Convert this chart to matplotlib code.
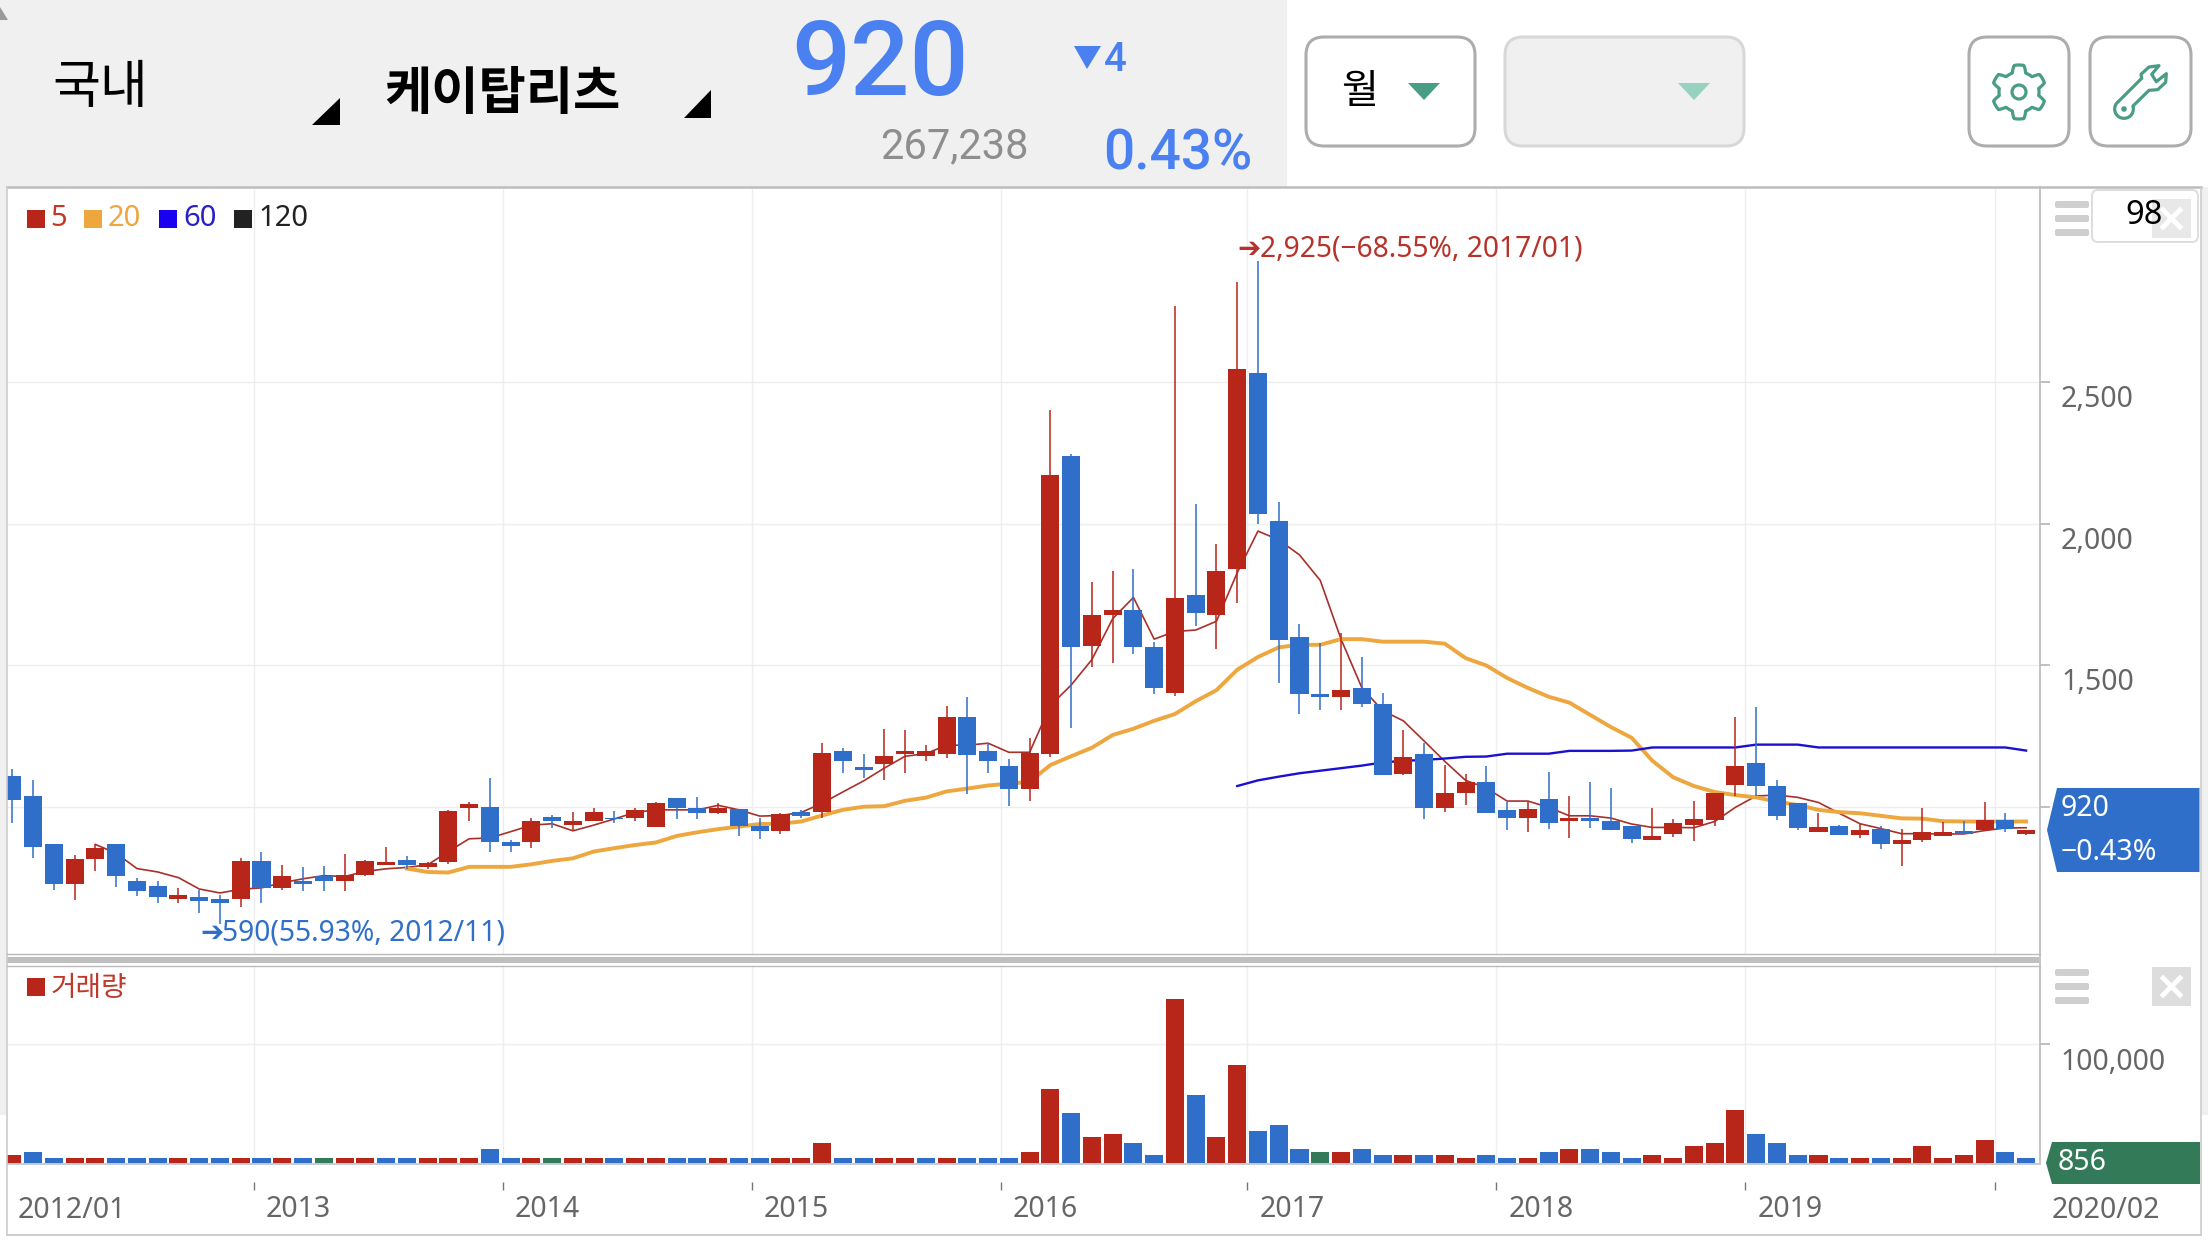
# 케이탑리츠 monthly chart

import numpy as np
import matplotlib
matplotlib.use('Agg')
import matplotlib.pyplot as plt
from matplotlib.patches import FancyBboxPatch, Polygon, Rectangle, Circle
from matplotlib.transforms import ScaledTranslation

plt.rcParams['font.family'] = ['Noto Sans', 'DejaVu Sans']
KR = ['Noto Sans CJK KR', 'DejaVu Sans']
RB = ['Roboto', 'DejaVu Sans']

# DATA (monthly, 2012/01 .. 2020/02)

opens = [1111, 1041, 869, 730, 818, 869, 741, 723, 678, 682,
         678, 678, 811, 716, 741, 756, 741, 763, 797, 815,
         790, 806, 998, 1002, 876, 878, 966, 939, 953, 964,
         964, 932, 1034, 998, 980, 995, 935, 917, 984, 982,
         1199, 1142, 1153, 1189, 1180, 1189, 1318, 1199, 1146, 1065,
         1189, 2238, 1570, 1677, 1695, 1566, 1404, 1749, 1677, 1841,
         2531, 2010, 1600, 1401, 1390, 1420, 1365, 1119, 1189, 998,
         1052, 1088, 991, 964, 1029, 950, 963, 950, 935, 884,
         905, 939, 956, 1078, 1156, 1074, 1015, 912, 935, 904,
         925, 869, 883, 900, 918, 921, 956, 907]
closes = [1027, 860, 730, 818, 858, 757, 705, 682, 689, 668,
          664, 811, 716, 756, 730, 741, 763, 811, 808, 797,
          804, 987, 1013, 878, 863, 950, 950, 953, 984, 957,
          991, 1016, 998, 980, 998, 935, 917, 977, 969, 1192,
          1165, 1133, 1181, 1199, 1199, 1318, 1185, 1164, 1065, 1192,
          2172, 1566, 1677, 1695, 1566, 1420, 1739, 1685, 1834, 2545,
          2033, 1589, 1401, 1390, 1413, 1365, 1115, 1178, 998, 1052,
          1088, 981, 964, 994, 943, 963, 950, 919, 888, 900,
          944, 960, 1050, 1147, 1075, 970, 926, 932, 904, 921,
          869, 883, 914, 914, 907, 956, 922, 920]
highs = [1135, 1097, 869, 833, 871, 869, 752, 739, 716, 709,
         689, 820, 844, 797, 790, 792, 836, 815, 860, 829,
         808, 991, 1018, 1104, 883, 964, 973, 982, 998, 987,
         998, 1018, 1034, 1038, 1014, 995, 964, 980, 991, 1228,
         1210, 1189, 1277, 1273, 1221, 1358, 1390, 1228, 1171, 1244,
         2400, 2245, 1794, 1834, 1841, 1584, 2766, 2069, 1929, 2851,
         2925, 2076, 1647, 1580, 1615, 1530, 1404, 1273, 1225, 1149,
         1116, 1147, 1020, 1020, 1125, 1039, 1088, 1067, 935, 998,
         958, 1022, 1050, 1320, 1355, 1098, 1015, 981, 939, 942,
         933, 925, 998, 947, 950, 1019, 980, 921]
lows = [946, 820, 709, 673, 774, 720, 686, 662, 662, 626,
        590, 650, 662, 709, 705, 705, 705, 756, 797, 784,
        784, 799, 953, 842, 842, 856, 928, 919, 951, 946,
        953, 932, 960, 960, 978, 899, 889, 907, 964, 964,
        1120, 1104, 1095, 1120, 1162, 1174, 1047, 1120, 1005, 1022,
        1178, 1280, 1494, 1509, 1541, 1399, 1392, 1638, 1559, 1721,
        1999, 1438, 1329, 1343, 1343, 1352, 1115, 1115, 960, 984,
        1008, 979, 919, 912, 925, 891, 928, 919, 874, 884,
        895, 881, 933, 1040, 1040, 954, 919, 912, 902, 891,
        853, 794, 877, 900, 907, 918, 913, 904]

# moving averages, first value belongs to month index 4 / 19 / 59
ma5 = [869, 838, 784, 772, 752, 712, 698, 711, 716, 734,
       748, 759, 756, 774, 783, 788, 797, 844, 889, 892,
       914, 937, 942, 917, 937, 959, 982, 991, 991, 991,
       1007, 991, 969, 971, 982, 1014, 1054, 1093, 1138, 1180,
       1189, 1219, 1219, 1226, 1194, 1194, 1359, 1431, 1521, 1665,
       1740, 1593, 1620, 1625, 1656, 1827, 1974, 1943, 1890, 1800,
       1593, 1422, 1341, 1305, 1234, 1162, 1095, 1068, 1022, 1022,
       1000, 970, 970, 962, 941, 929, 929, 928, 950, 1000,
       1040, 1043, 1035, 1017, 979, 942, 925, 907, 907, 906,
       906, 918, 927, 928]
ma20 = [784, 772, 770, 790, 790, 790, 799, 811, 820, 844,
        856, 867, 876, 899, 912, 923, 932, 941, 942, 950,
        971, 991, 1002, 1004, 1023, 1034, 1056, 1066, 1077, 1083,
        1090, 1149, 1180, 1210, 1255, 1277, 1305, 1329, 1374, 1413,
        1485, 1530, 1564, 1573, 1573, 1593, 1593, 1584, 1584, 1584,
        1577, 1526, 1500, 1456, 1421, 1390, 1369, 1326, 1283, 1245,
        1164, 1106, 1075, 1054, 1043, 1035, 1020, 1008, 991, 983,
        979, 970, 961, 960, 951, 950, 950, 950, 950]
ma60 = [1075, 1095, 1108, 1120, 1129, 1138, 1147, 1158, 1164, 1167,
        1172, 1178, 1179, 1189, 1189, 1189, 1199, 1199, 1199, 1200,
        1211, 1211, 1211, 1211, 1211, 1221, 1221, 1221, 1211, 1211,
        1211, 1211, 1211, 1211, 1211, 1211, 1211, 1211, 1200]

volumes = [7500, 10000, 5000, 5000, 5000, 5000, 5000, 5000, 5000, 5000,
           5000, 5000, 5000, 5000, 5000, 5000, 5000, 5000, 5000, 5000,
           5000, 5000, 5000, 12500, 5000, 5000, 5000, 5000, 5000, 5000,
           5000, 5000, 5000, 5000, 5000, 5000, 5000, 5000, 5000, 17500,
           5000, 5000, 5000, 5000, 5000, 5000, 5000, 5000, 5000, 10000,
           62500, 42500, 22500, 25000, 17500, 7500, 137500, 57500, 22500, 82500,
           27500, 32500, 12500, 10000, 10000, 12500, 7500, 7500, 7500, 7500,
           5000, 7500, 5000, 5000, 10000, 12500, 12500, 10000, 5000, 7500,
           5000, 15000, 17500, 45000, 25000, 17500, 7500, 7500, 5000, 5000,
           5000, 5000, 15000, 5000, 7500, 20000, 10000, 5000]
vol_dirs = list('rbbrrbbbrb' 'brbrbgrrbb' 'rrrbbrgrrb' 'rrbbrbbrrr' 'bbrrbrbbbr'
                'rbrrbbrbrr' 'bbbgrbbrbr' 'rbbrbrbbbr' 'rrrrbbbrbr' 'brrrrrbb')

price_ticks = [1000, 1500, 2000, 2500]
price_labels = ['', '1,500', '2,000', '2,500']
year_idx = [12, 24, 36, 48, 60, 72, 84, 96]
year_shift = [0.38, 0.38, 0.38, 0.38, 0.52, 0.52, 0.52, 0.52]
year_labels = ['2013', '2014', '2015', '2016', '2017', '2018', '2019']

# COLORS

RED = '#b8261a'
BLUE = '#2f6fc9'
GREEN = '#337a58'
ORANGE = '#eea63e'
NAVY = '#1c10d0'
TEAL = '#4a9d85'
HEAD_BLUE = '#4a80f0'
GRID = '#eeeeee'
vol_colors = {'r': RED, 'b': BLUE, 'g': GREEN}

W, H = 2208, 1242
fig = plt.figure(figsize=(W / 100, H / 100), dpi=100, facecolor='white')


def px_axes(left, top, right, bottom, z):
    a = fig.add_axes([left / W, 1 - bottom / H, (right - left) / W, (bottom - top) / H], zorder=z)
    return a


# x axis: candle i sits at 261.5 + (i - 12) * 20.76 px
XL = (7 - 261.5) / 20.76 + 12
XR = (2039.5 - 261.5) / 20.76 + 12
x = np.arange(len(closes))
year_pos = [i - s for i, s in zip(year_idx, year_shift)]

# PRICE PANEL

ax = px_axes(7, 187, 2039.5, 955, 1)
ax.set_xlim(XL, XR)
ax.set_ylim(1000 + (807.3 - 955) / 0.2836, 1000 + (807.3 - 187) / 0.2836)
for s in ax.spines.values():
    s.set_visible(False)
ax.set_yticks(price_ticks)
ax.set_yticklabels(price_labels)
ax.yaxis.tick_right()
ax.tick_params(axis='y', length=7, width=1.2, color='#b5b5b5', pad=8.5, labelsize=20.5, labelcolor='#666666')
shift = ScaledTranslation(0, -3 / 100, fig.dpi_scale_trans)
for t in ax.get_yticklabels():
    t.set_verticalalignment('top')
    t.set_transform(t.get_transform() + shift)
ax.set_xticks(year_pos)
ax.tick_params(axis='x', length=0, labelbottom=False)
ax.grid(True, color=GRID, lw=1.0)
ax.set_axisbelow(True)

ax.plot(x[4:], ma5, color='#a8302a', lw=1.2, zorder=2)
ax.plot(x[19:], ma20, color=ORANGE, lw=2.8, zorder=2)
ax.plot(x[59:], ma60, color=NAVY, lw=1.7, zorder=2)

colors = [RED if c >= o else BLUE for o, c in zip(opens, closes)]
ax.vlines(x, lows, highs, colors=colors, lw=1.1, zorder=3)
ax.bar(x, np.abs(np.array(closes) - np.array(opens)), bottom=np.minimum(opens, closes),
       width=0.87, color=colors, linewidth=0, zorder=3)

# VOLUME PANEL

ax2 = px_axes(7, 966, 2039.5, 1164, 1)
ax2.set_xlim(XL, XR)
ax2.set_ylim(0, 198 / 119.7 * 100000)
for s in ax2.spines.values():
    s.set_visible(False)
ax2.bar(x, volumes, width=0.87, color=[vol_colors[d] for d in vol_dirs], linewidth=0, zorder=3)
ax2.set_yticks([100000])
ax2.set_yticklabels([''])
ax2.yaxis.tick_right()
ax2.tick_params(axis='y', length=7, width=1.2, color='#b5b5b5')
ax2.set_xticks(year_pos)
ax2.tick_params(axis='x', length=0, labelbottom=False)
ax2.grid(True, color=GRID, lw=1.0)
ax2.set_axisbelow(True)

# DATE STRIP

ax3 = px_axes(7, 1182, 2039.5, 1234, 1)
ax3.set_xlim(XL, XR)
ax3.set_ylim(1, 0)
ax3.axis('off')
ax3.vlines(year_pos, 0, 0.16, color='#777777', lw=1.0)
for p, lab in zip(year_pos, year_labels):
    ax3.text(p + 0.58, 0.53, lab, fontsize=20.5, color='#666666', ha='left', va='center')

# HEADER, BUTTONS, TAGS (pixel coordinates)

bg = px_axes(0, 0, W, H, 0)
bg.set_xlim(0, W)
bg.set_ylim(H, 0)
bg.axis('off')
bg.add_patch(Rectangle((0, 0), 1287, 187, color='#f0f0f0', lw=0))
bg.add_patch(Rectangle((0, 187), 7, 928, color='#f0f0f0', lw=0))
bg.add_patch(Rectangle((2201, 187), 7, 928, color='#f0f0f0', lw=0))

ui = px_axes(0, 0, W, H, 2)
ui.set_xlim(0, W)
ui.set_ylim(H, 0)
ui.axis('off')
ui.patch.set_alpha(0)

# frame lines
ui.plot([7, 2201], [187, 187], color='#bdbdbd', lw=1.8)
ui.plot([7, 7], [187, 1235], color='#cccccc', lw=1.2)
ui.plot([2039.5, 2039.5], [187, 1164], color='#bbbbbb', lw=1.2)
ui.plot([2200.5, 2200.5], [187, 1235], color='#cccccc', lw=1.2)
ui.plot([7, 2201], [1235, 1235], color='#cccccc', lw=1.4)
ui.plot([7, 2039.5], [954, 954], color='#bbbbbb', lw=1.0)
ui.add_patch(Rectangle((7, 957), 2032, 6, color='#bfbfbf', lw=0))
ui.plot([7, 2039.5], [966, 966], color='#bbbbbb', lw=1.0)
ui.plot([7, 2039.5], [1164, 1164], color='#c4ccd8', lw=1.4)

# header texts
ui.add_patch(Polygon([(0, 7), (8, 20), (0, 20)], color='#9a9a9a', lw=0))
ui.text(52, 88, '국내', fontsize=37.5, family=KR, color='black', va='center')
ui.text(384, 93, '케이탑리츠', fontsize=37, family=KR, fontweight='bold', color='black', va='center')
ui.add_patch(Polygon([(340, 98), (340, 125), (312, 125)], color='black', lw=0))
ui.add_patch(Polygon([(711, 90), (711, 118), (684, 118)], color='black', lw=0))
ui.text(880, 67, '920', fontsize=75, family=RB, fontweight='medium', color=HEAD_BLUE, ha='center', va='center')
ui.add_patch(Polygon([(1074, 46), (1101, 46), (1087, 69)], color=HEAD_BLUE, lw=0))
ui.text(1104, 60, '4', fontsize=29, family=RB, fontweight='medium', color=HEAD_BLUE, va='center')
ui.text(1028, 147, '267,238', fontsize=30, family=RB, color='#8e8e8e', ha='right', va='center')
ui.text(1252, 154, '0.43%', fontsize=39.5, family=RB, fontweight='medium', color=HEAD_BLUE, ha='right', va='center')


def button(left, right, face, edge):
    ui.add_patch(FancyBboxPatch((left + 16, 37 + 16), right - left - 32, 109 - 32,
                                boxstyle='round,pad=16,rounding_size=18',
                                fc=face, ec=edge, lw=2.2))


button(1306, 1475, 'white', '#adadad')
button(1505, 1744, '#f0f0f0', '#d8d8d8')
button(1969, 2069, 'white', '#adadad')
button(2090, 2191, 'white', '#adadad')
ui.text(1360, 91, '월', fontsize=29, family=KR, fontweight='medium', color='black', ha='center', va='center')
ui.add_patch(Polygon([(1408, 83), (1440, 83), (1424, 100)], color=TEAL, lw=0))
ui.add_patch(Polygon([(1678, 83), (1710, 83), (1694, 100)], color='#97d1bf', lw=0))

# gear icon, six teeth
ang = np.linspace(0, 2 * np.pi, 361)
rad = 23.5 + 3.5 * np.clip(2.2 * np.cos(6 * (ang + np.pi / 2)), -1, 1)
ui.add_patch(Polygon(np.c_[2019 + rad * np.cos(ang), 92 + rad * np.sin(ang)], closed=True,
                     fc='none', ec=TEAL, lw=2.3, joinstyle='round'))
ui.add_patch(Circle((2019, 92), 7, fc='none', ec=TEAL, lw=2.3))

# wrench icon, outline runs from the handle round the jaw and back round the ring
arc = np.deg2rad(np.linspace(-18, 234, 40))
head = np.array([(500, 100), (498, 88), (522, 66), (552, 62), (530, 88), (544, 110), (574, 86),
                 (572, 112), (548, 134), (522, 136), (474, 183)], dtype=float)
ring = np.c_[447 + 28 * np.cos(arc), 192 + 28 * np.sin(arc)]
outline = np.vstack([head, ring])
ui.add_patch(Polygon(np.c_[1975 + outline[:, 0] / 3, 45 + outline[:, 1] / 3], closed=True,
                     fc='white', ec=TEAL, lw=2.3, joinstyle='round'))
ui.add_patch(Circle((1975 + 447 / 3, 45 + 192 / 3), 2.8, color=TEAL, lw=0))

# legends
legend_items = [(27, 50, RED, '#c0392b', '5'), (84, 108, ORANGE, ORANGE, '20'),
                (159, 183, '#1a00f0', '#2a20c8', '60'), (234, 258, '#222222', '#222222', '120')]
for sq, tx, sc, tc, lab in legend_items:
    ui.add_patch(Rectangle((sq, 210), 18, 18, color=sc, lw=0))
    ui.text(tx, 219, lab, fontsize=21, color=tc, va='center')
ui.add_patch(Rectangle((27, 978), 18, 18, color=RED, lw=0))
ui.text(51, 988, '거래량', fontsize=20, family=KR, color='#c0392b', va='center')

# high / low labels
ui.text(200, 933, '\u2794', fontsize=20, family=['DejaVu Sans'], fontweight='bold', color=BLUE, va='center')
ui.text(222, 933, '590(55.93%, 2012/11)', fontsize=20.3, color=BLUE, va='center')
ui.text(1237, 249, '\u2794', fontsize=20, family=['DejaVu Sans'], fontweight='bold', color='#b5332a', va='center')
ui.text(1260, 249, '2,925(\u221268.55%, 2017/01)', fontsize=20.3, color='#b5332a', va='center')


def panel_tools(ytop, yclose):
    for yy in ytop:
        ui.add_patch(FancyBboxPatch((2057, yy + 2), 30, 3, boxstyle='round,pad=2,rounding_size=2',
                                    fc='#cfcfcf', ec='none'))
    ui.add_patch(Rectangle((2152, yclose), 39, 39, color='#dddddd', lw=0))
    ui.plot([2163, 2180], [yclose + 11, yclose + 28], color='white', lw=3.5)
    ui.plot([2163, 2180], [yclose + 28, yclose + 11], color='white', lw=3.5)


panel_tools([201, 215, 229], 199)
panel_tools([969, 983, 997], 967)
ui.add_patch(FancyBboxPatch((2096, 194), 98, 44, boxstyle='round,pad=4,rounding_size=6',
                            fc=(1, 1, 1, 0.35), ec='#dddddd', lw=1.4))
ui.text(2144, 216, '98', fontsize=23.5, color='black', ha='center', va='center')

# volume axis label
ui.text(2060, 1062, '100,000', fontsize=20.5, color='#666666', va='center')

# price tags
ui.add_patch(Polygon([(2047, 830), (2057, 788), (2199.5, 788), (2199.5, 872), (2057, 872)], color=BLUE, lw=0))
ui.text(2061, 809, '920', fontsize=20.5, color='white', va='center')
ui.text(2061, 852, '\u22120.43%', fontsize=20.5, color='white', va='center')
ui.add_patch(Polygon([(2046, 1163), (2052, 1142), (2200, 1142), (2200, 1184), (2052, 1184)], color=GREEN, lw=0))
ui.text(2058, 1163, '856', fontsize=20.5, color='white', va='center')

# first and last dates sit outside the grid
ui.text(18, 1210, '2012/01', fontsize=20.5, color='#666666', va='center')
ui.text(2052, 1210, '2020/02', fontsize=20.5, color='#666666', va='center')

fig.savefig('out.png', dpi=100)
